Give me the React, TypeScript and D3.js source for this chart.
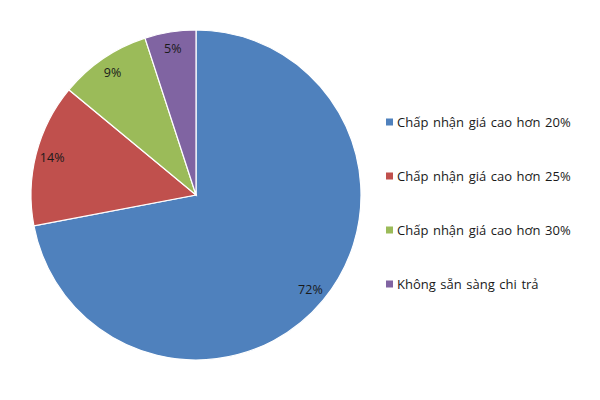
import { useEffect, useRef } from 'react';
import * as d3 from 'd3';

const categories = [
  'Chấp nhận giá cao hơn 20%',
  'Chấp nhận giá cao hơn 25%',
  'Chấp nhận giá cao hơn 30%',
  'Không sẵn sàng chi trả',
];
const values = [72, 14, 9, 5];
const colors = ['#4F81BD', '#C0504D', '#9BBB59', '#8064A2'];

const width = 600;
const height = 400;

export default function App() {
  const svgRef = useRef<SVGSVGElement>(null);

  useEffect(() => {
    if (!svgRef.current) return;
    const svg = d3.select(svgRef.current);
    svg.selectAll('*').remove();

    svg.append('rect').attr('width', width).attr('height', height).attr('fill', '#fff');

    const cx = 196;
    const cy = 195;
    const radius = 165;

    const pie = d3.pie<number>().sort(null).value(d => d);
    const arcs = pie(values);
    const arc = d3.arc<d3.PieArcDatum<number>>().innerRadius(0).outerRadius(radius);
    const labelArc = d3.arc<d3.PieArcDatum<number>>().innerRadius(radius * 0.9).outerRadius(radius * 0.9);

    const g = svg.append('g').attr('transform', `translate(${cx},${cy})`);

    g.selectAll('path')
      .data(arcs)
      .join('path')
      .attr('d', arc)
      .attr('fill', (_, i) => colors[i])
      .attr('stroke', '#fff')
      .attr('stroke-width', 1.2);

    g.selectAll('text')
      .data(arcs)
      .join('text')
      .attr('transform', d => `translate(${labelArc.centroid(d)})`)
      .attr('text-anchor', 'middle')
      .attr('dy', '0.35em')
      .attr('font-family', '"Open Sans", sans-serif')
      .attr('font-size', 12.5)
      .attr('fill', '#1a1a1a')
      .text(d => `${d.data}%`);

    // legend
    const legendY = d3.scalePoint<string>().domain(categories).range([122, 284]);
    const legend = svg.append('g');
    const items = legend.selectAll('g')
      .data(categories)
      .join('g')
      .attr('transform', d => `translate(386,${legendY(d)})`);

    items.append('rect')
      .attr('x', 0)
      .attr('y', -3.5)
      .attr('width', 7)
      .attr('height', 7)
      .attr('fill', (_, i) => colors[i]);

    items.append('text')
      .attr('x', 11)
      .attr('dy', '0.35em')
      .attr('font-family', '"Open Sans", sans-serif')
      .attr('font-size', 13)
      .attr('word-spacing', 1.2)
      .attr('fill', '#1a1a1a')
      .text(d => d);
  }, []);

  return (
    <div style={{ position: 'absolute', left: 0, top: 0 }}>
      <svg ref={svgRef} width={width} height={height} style={{ display: 'block' }} />
    </div>
  );
}
